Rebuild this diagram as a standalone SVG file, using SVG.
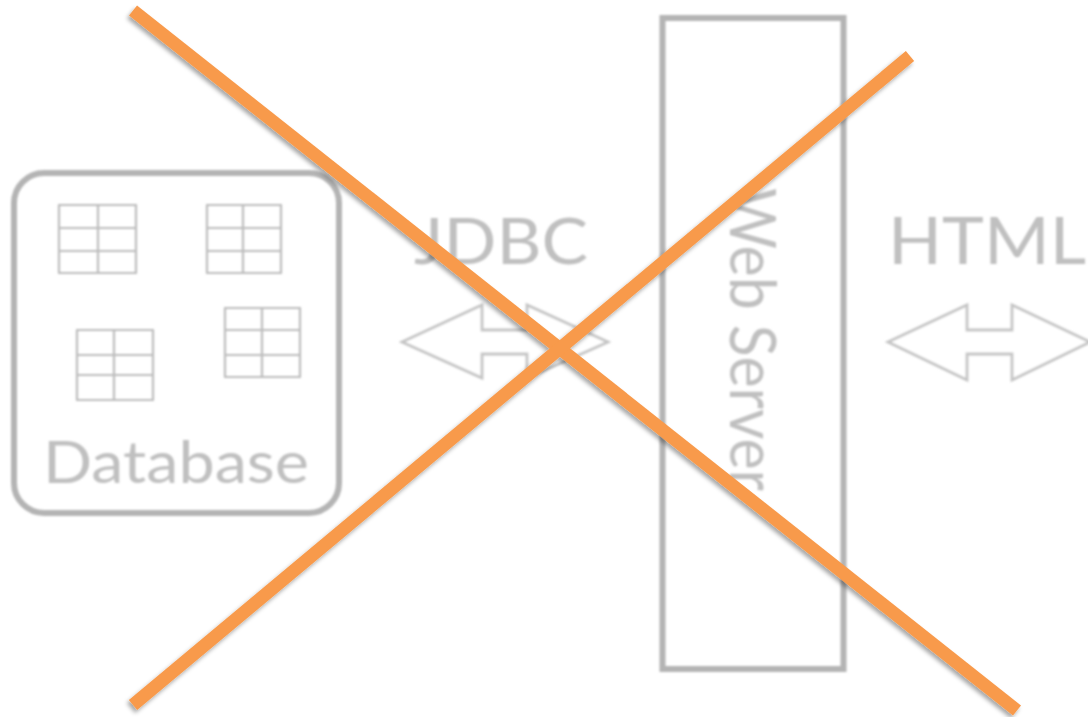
<svg xmlns="http://www.w3.org/2000/svg" width="1088" height="717" viewBox="0 0 1088 717">
<defs>
<filter id="soft" x="-5%" y="-5%" width="110%" height="110%"><feGaussianBlur stdDeviation="1.1"/></filter>
<filter id="shadow" x="-5%" y="-5%" width="110%" height="110%"><feDropShadow dx="-2" dy="3" stdDeviation="2" flood-color="#000" flood-opacity="0.35"/></filter>
</defs>
<style>
.box{fill:none;stroke:#b4b4b4;stroke-width:6}
.grid{fill:none;stroke:#bcbcbc;stroke-width:2.2}
.arrow{fill:#fff;stroke:#c4c4c4;stroke-width:2.8}
.label{font-family:"Lato","Open Sans",sans-serif;font-weight:400;fill:#c0c0c0}
.cross{stroke:#f89a4b;stroke-width:13;fill:none}
</style>
<rect width="1088" height="717" fill="#fff"/>
<g filter="url(#soft)">
<g id="database">
<rect class="box" x="14" y="173" width="325" height="340" rx="30"/>
<path class="grid" d="M58 205H137M58 228H137M58 251H137M58 273H137M59 205V273M98 205V273M136 205V273"/>
<path class="grid" d="M206 205H282M206 228H282M206 251H282M206 273H282M207 205V273M243 205V273M281 205V273"/>
<path class="grid" d="M76 330H154M76 355H154M76 375H154M76 400H154M77 330V400M114 330V400M153 330V400"/>
<path class="grid" d="M224 308H301M224 330H301M224 355H301M224 377H301M225 308V377M262 308V377M300 308V377"/>
<text class="label" x="43" y="483" font-size="59" textLength="266" lengthAdjust="spacingAndGlyphs">Database</text>
</g>
<g id="jdbc">
<text class="label" x="414" y="264" font-size="63" textLength="174" lengthAdjust="spacingAndGlyphs">JDBC</text>
<polygon class="arrow" points="402,342 482,305 482,330 527,330 527,305 608,342 527,378 527,354 482,354 482,378"/>
</g>
<g id="web-server">
<rect class="box" x="662.500" y="18" width="181" height="651"/>
<text class="label" transform="translate(730,188) rotate(90)" font-size="63" textLength="303" lengthAdjust="spacingAndGlyphs">Web Server</text>
</g>
<g id="html">
<text class="label" x="888" y="264" font-size="65" textLength="198" lengthAdjust="spacingAndGlyphs">HTML</text>
<polygon class="arrow" points="888,342 967,305 967,330 1012,330 1012,305 1090,342 1012,380 1012,354 967,354 967,380"/>
</g>
</g>
<g id="connectors" filter="url(#shadow)">
<line class="cross" x1="133" y1="10.500" x2="1017" y2="710.500"/>
<line class="cross" x1="133" y1="705" x2="910" y2="56"/>
</g>
</svg>
